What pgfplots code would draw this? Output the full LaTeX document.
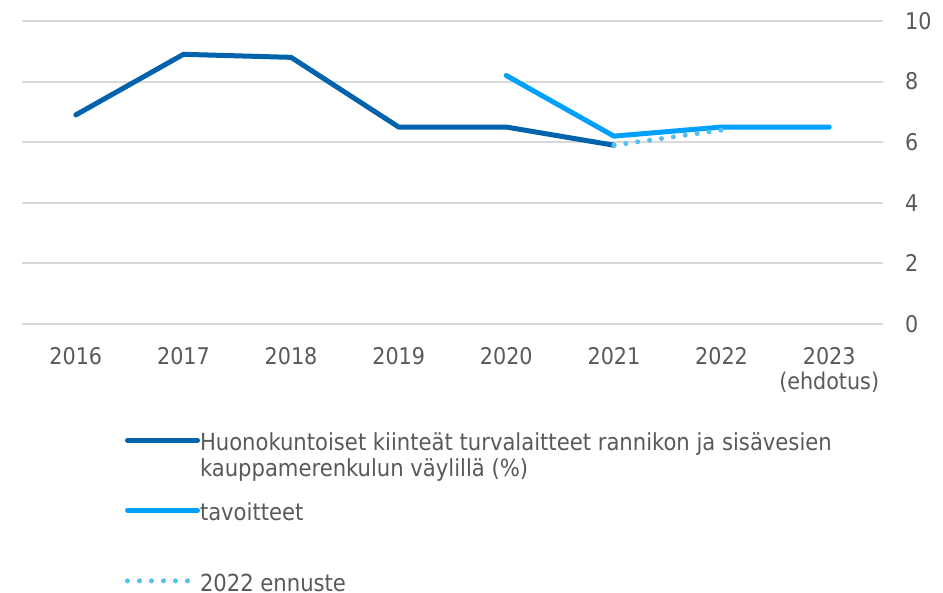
\documentclass[border=0pt]{standalone}
\usepackage{fontspec}
\setmainfont{DejaVu Sans Condensed}
\usepackage{pgfplots}
\pgfplotsset{compat=1.18}
\definecolor{darkblue}{RGB}{0,99,172}
\definecolor{lightblue}{RGB}{0,160,255}
\definecolor{dotblue}{RGB}{85,190,240}
\definecolor{txt}{RGB}{89,89,89}
\definecolor{gridc}{RGB}{217,217,217}

\begin{document}
\begin{tikzpicture}
\useasboundingbox (-22pt,-269pt) rectangle (921pt,324pt);
\begin{axis}[
  at={(0pt,0pt)}, anchor=south west,
  scale only axis, width=861pt, height=303pt,
  xmin=-0.5, xmax=7.5, ymin=0, ymax=10,
  xtick={0,...,7},
  xticklabels={2016,2017,2018,2019,2020,2021,2022,{2023\\(ehdotus)}},
  ytick={0,2,...,10},
  yticklabel pos=right,
  axis line style={draw=none},
  major tick length=0pt,
  ymajorgrids,
  grid style={gridc, line width=2pt},
  tick label style={font=\fontsize{23}{25}\selectfont, text=txt},
  xticklabel style={align=center, inner sep=0pt, anchor=north, yshift=-23pt},
  yticklabel style={anchor=west, inner sep=0pt, xshift=22pt},
  /pgf/number format/assume math mode=true,
  clip=false,
  legend style={at={(axis description cs:0,0)}, anchor=north west,
    xshift=103pt, yshift=-107pt, draw=none, fill=none,
    inner sep=0pt, outer sep=0pt,
    font=\fontsize{23.5}{26}\selectfont,
    cells={anchor=base west, inner sep=0pt, text=txt},
    column sep=-2pt, row sep=24pt},
  legend image code/.code={\draw[#1] (0pt,10.5pt) -- (70pt,10.5pt);},
]

% toteuma
\addplot[darkblue, line width=5pt, line join=round, line cap=round] coordinates {
  (0,6.9) (1,8.9) (2,8.8) (3,6.5) (4,6.5) (5,5.9)
};
\addlegendentry{\parbox[t]{700pt}{Huonokuntoiset kiinteät turvalaitteet rannikon ja sisävesien\\kauppamerenkulun väylillä (\%)}}

% tavoitteet
\addplot[lightblue, line width=5pt, line join=round, line cap=round] coordinates {
  (4,8.2) (5,6.2) (6,6.5) (7,6.5)
};
\addlegendentry{\rule{0pt}{40.5pt}tavoitteet}

% ennuste
\addplot[dotblue, line width=5pt, line cap=round, dash pattern=on 0pt off 12pt] coordinates {
  (5,5.9) (6,6.4)
};
\addlegendentry{\rule{0pt}{41pt}2022 ennuste}

\end{axis}
\end{tikzpicture}
\end{document}
